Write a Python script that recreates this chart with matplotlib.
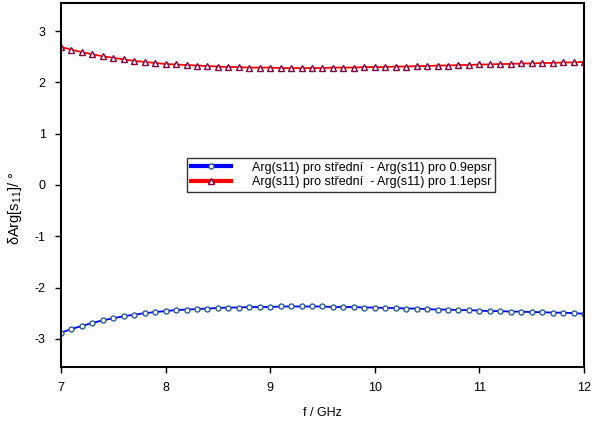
import matplotlib
matplotlib.use('Agg')
import matplotlib.pyplot as plt
from matplotlib.lines import Line2D
import numpy as np

plt.rcParams['font.family'] = ['Liberation Sans', 'DejaVu Sans']
plt.rcParams['font.size'] = 9
plt.rcParams['axes.unicode_minus'] = False
plt.rcParams['mathtext.fontset'] = 'custom'
plt.rcParams['mathtext.rm'] = 'Liberation Sans'
plt.rcParams['mathtext.it'] = 'Liberation Sans'

freq = [7.0, 7.1, 7.2, 7.3, 7.4, 7.5, 7.6, 7.7, 7.8, 7.9,
        8.0, 8.1, 8.2, 8.3, 8.4, 8.5, 8.6, 8.7, 8.8, 8.9,
        9.0, 9.1, 9.2, 9.3, 9.4, 9.5, 9.6, 9.7, 9.8, 9.9,
        10.0, 10.1, 10.2, 10.3, 10.4, 10.5, 10.6, 10.7, 10.8, 10.9,
        11.0, 11.1, 11.2, 11.3, 11.4, 11.5, 11.6, 11.7, 11.8, 11.9, 12.0]

# stredni - 0.9epsr
d09 = [-2.88, -2.81, -2.75, -2.69, -2.64, -2.60, -2.56, -2.53, -2.50, -2.48,
       -2.46, -2.44, -2.43, -2.42, -2.41, -2.40, -2.39, -2.39, -2.38, -2.38,
       -2.38, -2.37, -2.37, -2.37, -2.37, -2.37, -2.38, -2.38, -2.38, -2.39,
       -2.39, -2.40, -2.40, -2.41, -2.41, -2.42, -2.43, -2.43, -2.44, -2.44,
       -2.45, -2.46, -2.46, -2.47, -2.47, -2.48, -2.48, -2.49, -2.49, -2.50, -2.51]

# stredni - 1.1epsr
d11 = [2.69, 2.64, 2.59, 2.55, 2.51, 2.48, 2.45, 2.42, 2.40, 2.38,
       2.36, 2.35, 2.34, 2.33, 2.32, 2.31, 2.30, 2.30, 2.29, 2.29,
       2.29, 2.28, 2.28, 2.28, 2.28, 2.28, 2.29, 2.29, 2.29, 2.30,
       2.30, 2.30, 2.31, 2.31, 2.32, 2.32, 2.33, 2.33, 2.34, 2.34,
       2.35, 2.35, 2.36, 2.36, 2.37, 2.37, 2.38, 2.38, 2.39, 2.39, 2.40]

labels = ['Arg(s11) pro střední  - Arg(s11) pro 0.9epsr',
          'Arg(s11) pro střední  - Arg(s11) pro 1.1epsr']

fig = plt.figure(figsize=(5.95, 4.25), dpi=100)
ax = fig.add_axes([0.1025, 0.1365, 0.879, 0.8565])

ax.plot(freq, d09, '-', color='#0000ff', lw=1.3, marker='o', ms=3.6,
        mfc='white', mec='#2a5c9c', mew=1.0)
ax.plot(freq, d11, '-', color='#ff0000', lw=1.3, marker='^', ms=3.8,
        mfc='white', mec='#800040', mew=1.0)

ax.set_xlim(7, 12)
ax.set_ylim(-3.55, 3.55)
ax.set_xticks([7, 8, 9, 10, 11, 12])
ax.set_yticks([-3, -2, -1, 0, 1, 2, 3])
ax.tick_params(direction='out', length=4, width=1, pad=7, labelsize=9)
for s in ax.spines.values():
    s.set_linewidth(1.5)

ax.set_xlabel('f / GHz', fontsize=9, labelpad=9)
ax.set_ylabel(r'δArg[s$_{11}$]/ °', fontsize=10.5)
ax.yaxis.set_label_coords(-0.07, 0.437)

handles = [Line2D([], [], color='#0000ff', lw=3, marker='o', ms=3.6,
                  mfc='white', mec='#2a5c9c', mew=1.0),
           Line2D([], [], color='#ff0000', lw=3, marker='^', ms=3.8,
                  mfc='white', mec='#800040', mew=1.0)]
leg = ax.legend(handles, labels, loc='upper left', bbox_to_anchor=(0.241, 0.574),
                fontsize=9, frameon=True, fancybox=False, borderpad=0.3,
                handlelength=3.2, handletextpad=1.7, labelspacing=0.2,
                borderaxespad=0)
leg.get_frame().set_edgecolor('black')
leg.get_frame().set_linewidth(1.0)

plt.savefig('out.png', dpi=100)
plt.close()
